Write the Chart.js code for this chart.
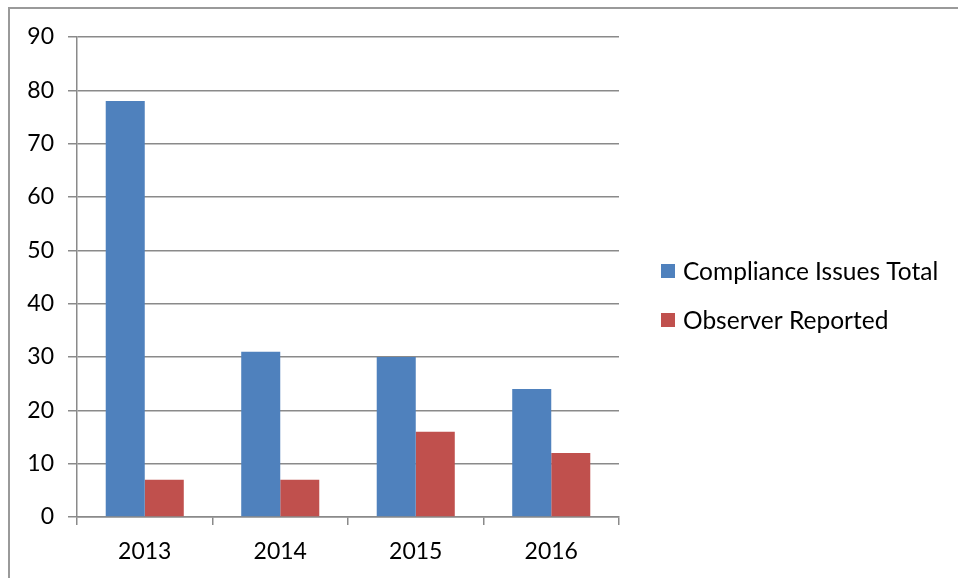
<!DOCTYPE html>
<html>
<head>
<meta charset="utf-8">
<script src="https://cdn.jsdelivr.net/npm/chart.js@4/dist/chart.umd.min.js"></script>
<style>
html,body{margin:0;padding:0;background:#fff;}
#wrap{position:relative;width:958px;height:578px;}
#frame{position:absolute;left:8px;top:7px;width:950px;height:571px;border-top:2px solid #9a9a9a;border-left:2px solid #9a9a9a;box-sizing:border-box;pointer-events:none;}
canvas{position:absolute;left:0;top:0;}
</style>
</head>
<body>
<div id="wrap">
<canvas id="c" width="958" height="578"></canvas>
<div id="frame"></div>
</div>
<script>
const categories = ['2013', '2014', '2015', '2016'];
const complianceTotal = [78, 31, 30, 24];
const observerReported = [7, 7, 16, 12];
const seriesNames = ['Compliance Issues Total', 'Observer Reported'];
const seriesColors = ['#4F81BD', '#C0504D'];
const yMin = 0, yMax = 90, yStep = 10;

const FONT = 'Lato, "Liberation Sans", sans-serif';
const GRID = '#8a8a8a';

const legendPlugin = {
  id: 'customLegend',
  afterDraw(chart) {
    const ctx = chart.ctx;
    ctx.save();
    ctx.font = '24.5px ' + FONT;
    ctx.textBaseline = 'middle';
    ctx.textAlign = 'left';
    const ys = [271, 320];
    chart.data.datasets.forEach((ds, i) => {
      ctx.fillStyle = ds.backgroundColor;
      ctx.fillRect(661, ys[i] - 7, 14, 14);
      ctx.fillStyle = '#000';
      ctx.fillText(ds.label, 683, ys[i] + 1);
    });
    ctx.restore();
  }
};

new Chart(document.getElementById('c'), {
  type: 'bar',
  data: {
    labels: categories,
    datasets: [
      { label: seriesNames[0], data: complianceTotal, backgroundColor: seriesColors[0] },
      { label: seriesNames[1], data: observerReported, backgroundColor: seriesColors[1] }
    ]
  },
  options: {
    responsive: false,
    animation: false,
    devicePixelRatio: 1,
    layout: { padding: { left: 0, top: 37, right: 339, bottom: 0 } },
    datasets: { bar: { categoryPercentage: 0.576, barPercentage: 1.0 } },
    plugins: { legend: { display: false }, tooltip: { enabled: false } },
    scales: {
      x: {
        grid: { display: true, drawOnChartArea: false, drawTicks: true, tickLength: 8, color: GRID, lineWidth: 1.5, offset: true },
        border: { display: true, color: GRID, width: 1.5 },
        ticks: { color: '#000', font: { family: FONT, size: 23 }, padding: 13 },
        afterFit(s) { s.height = 61; }
      },
      y: {
        min: yMin, max: yMax,
        grid: { display: true, drawTicks: true, tickLength: 9, color: GRID, lineWidth: 1.5 },
        border: { display: true, color: GRID, width: 1.5 },
        ticks: { stepSize: yStep, color: '#000', font: { family: FONT, size: 23 }, padding: 14 },
        afterFit(s) { s.width = 77; }
      }
    }
  },
  plugins: [legendPlugin]
});
</script>
</body>
</html>
